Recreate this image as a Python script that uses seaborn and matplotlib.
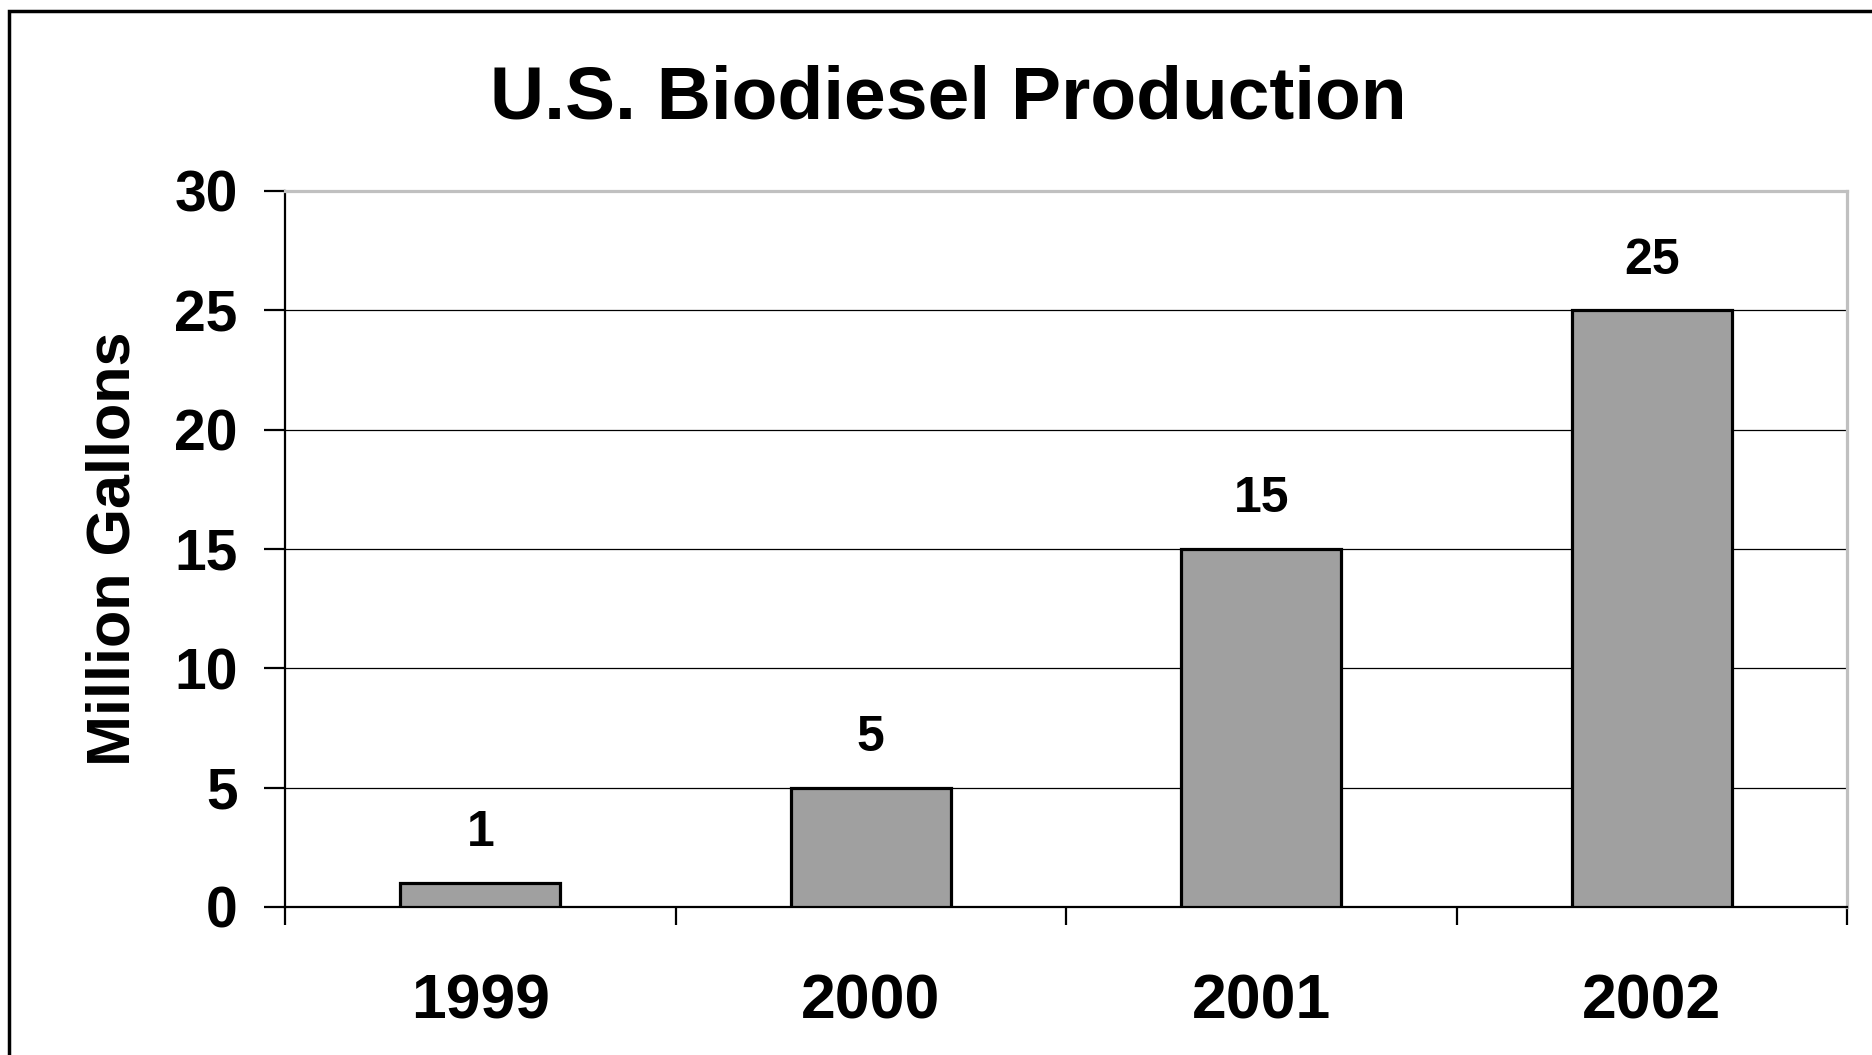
import matplotlib
matplotlib.use("Agg")
import matplotlib.pyplot as plt
import matplotlib.patches as mpatches
from matplotlib.ticker import FixedLocator, NullFormatter
import seaborn as sns
import pandas as pd

years = ["1999", "2000", "2001", "2002"]
production = [1, 5, 15, 25]
y_ticks = [0, 5, 10, 15, 20, 25, 30]
title_text = "U.S. Biodiesel Production"
y_label = "Million Gallons"

sns.set_style("white")
plt.rcParams["font.family"] = ["Liberation Sans", "DejaVu Sans"]
plt.rcParams["font.weight"] = "bold"
plt.rcParams["text.color"] = "black"
plt.rcParams["axes.labelcolor"] = "black"
plt.rcParams["xtick.color"] = "black"
plt.rcParams["ytick.color"] = "black"

df = pd.DataFrame({"year": years, "value": production})

fig = plt.figure(figsize=(18.72, 10.55), dpi=100)
ax = fig.add_axes([285 / 1872, 1 - 907 / 1055, (1847 - 285) / 1872, (907 - 191) / 1055])

sns.barplot(data=df, x="year", y="value", order=years, color="#A0A0A0", saturation=1,
            width=0.41, edgecolor="black", linewidth=2.3, ax=ax, zorder=3)

ax.set_ylim(0, 30)
ax.set_xlim(-0.5, 3.5)
ax.set_yticks(y_ticks)
ax.set_yticklabels([str(t) for t in y_ticks])

# gridlines
ax.set_axisbelow(True)
for t in y_ticks[1:-1]:
    ax.axhline(t, color="black", linewidth=0.9, zorder=1)

# spines
for s in ["left", "bottom"]:
    ax.spines[s].set_color("black")
    ax.spines[s].set_linewidth(1.6)
for s in ["top", "right"]:
    ax.spines[s].set_color("#C0C0C0")
    ax.spines[s].set_linewidth(2.3)

ax.tick_params(axis="y", direction="out", length=15, width=1.6, pad=19,
               labelsize=41, left=True, colors="black")
ax.tick_params(axis="x", which="major", length=0, pad=47, labelsize=45, colors="black")
ax.xaxis.set_minor_locator(FixedLocator([-0.5, 0.5, 1.5, 2.5, 3.5]))
ax.xaxis.set_minor_formatter(NullFormatter())
ax.tick_params(axis="x", which="minor", direction="out", length=13, width=1.6,
               bottom=True, color="black")
for lab in ax.get_xticklabels() + ax.get_yticklabels():
    lab.set_fontweight("bold")
    lab.set_color("black")

ax.set_xlabel("")
ax.set_ylabel(y_label, fontsize=44, fontweight="bold", color="black")
ax.yaxis.set_label_coords((142 - 285) / 1562, 0.5)

# value labels
for patch, v in zip(ax.patches, production):
    ax.annotate(str(v), (patch.get_x() + patch.get_width() / 2, patch.get_height()),
                xytext=(0, 26.5), textcoords="offset points", ha="center", va="baseline",
                fontsize=36, fontweight="bold", color="black")

fig.text(948 / 1872, 1 - 119 / 1055, title_text, ha="center", va="baseline",
         fontsize=54, fontweight="bold", color="black")

# outer frame
frame = mpatches.Rectangle((9 / 1872, -0.05), 1.1, 1 - 11 / 1055 + 0.05, transform=fig.transFigure,
                           fill=False, edgecolor="black", linewidth=2.5, clip_on=False)
fig.patches.append(frame)

fig.savefig("out.png", dpi=100, facecolor="white")
